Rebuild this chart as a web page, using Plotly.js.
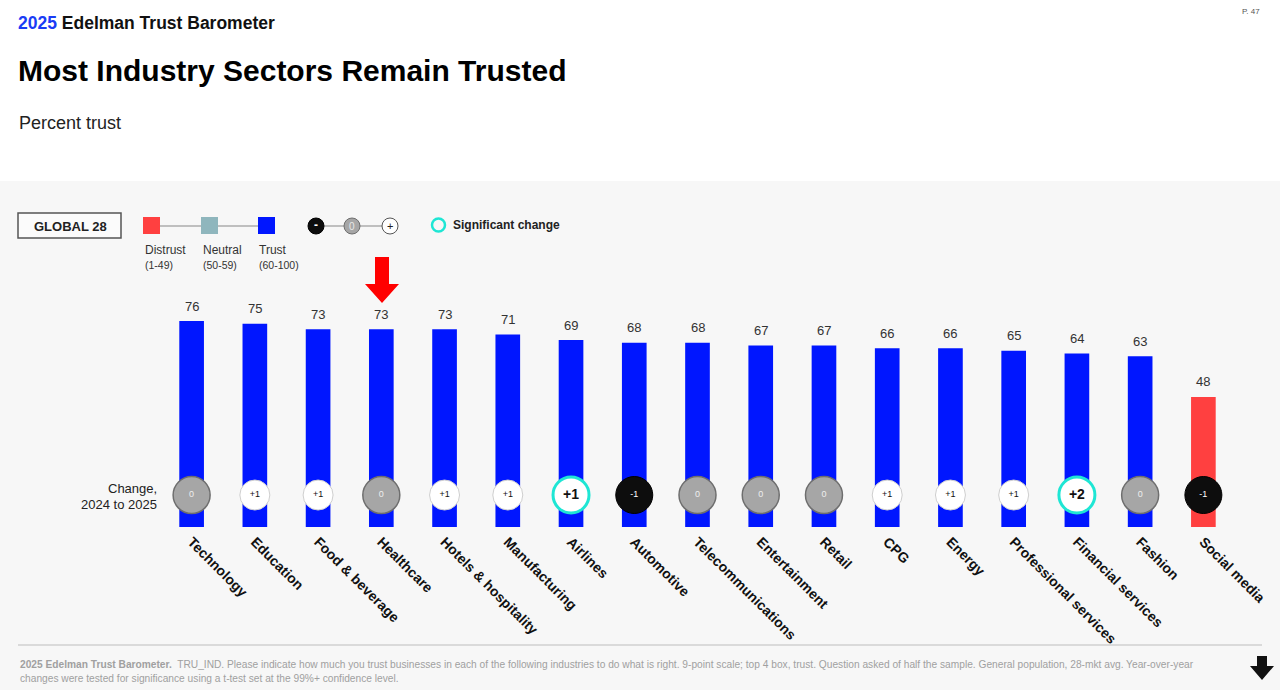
<!DOCTYPE html>
<html>
<head>
<meta charset="utf-8">
<script src="https://cdn.plot.ly/plotly-3.0.1.min.js"></script>
<style>
html,body{margin:0;padding:0;background:#fff;}
#chart{width:1280px;height:690px;}
</style>
</head>
<body>
<div id="chart"></div>
<script>
// ---------- DATA ----------
const categories = ["Technology","Education","Food & beverage","Healthcare","Hotels & hospitality","Manufacturing","Airlines","Automotive","Telecommunications","Entertainment","Retail","CPG","Energy","Professional services","Financial services","Fashion","Social media"];
const trust = [76,75,73,73,73,71,69,68,68,67,67,66,66,65,64,63,48];
const change = [0,1,1,0,1,1,1,-1,0,0,0,1,1,1,2,0,-1];
const significant = [0,0,0,0,0,0,1,0,0,0,0,0,0,0,1,0,0];
const legendLevels = ["Distrust","Neutral","Trust"];
const legendRanges = ["(1-49)","(50-59)","(60-100)"];

// ---------- STYLE / LAYOUT CONSTANTS ----------
const W = 1280, H = 690;
const PL = 160, PR = 1235, PT = 256, PB = 527;   // plot area in px
const X = px => (px - PL) / (PR - PL);
const Y = py => (PB - py) / (PB - PT);
const BLUE = "#0016ff", RED = "#ff4040", NEUTRAL = "#8fb6bd";
const CYAN = "#1ee6d4";
const FONT = "Liberation Sans, Arial, sans-serif";
const circleY = 11.8;

const barColors = trust.map(v => v >= 60 ? BLUE : (v >= 50 ? NEUTRAL : RED));
const changeText = change.map(c => c > 0 ? "+" + c : String(c));
const mFill = change.map((c,i) => significant[i] ? "#ffffff" : (c > 0 ? "#ffffff" : (c === 0 ? "#a6a6a6" : "#0d0d0d")));
const mLine = change.map((c,i) => significant[i] ? CYAN : (c > 0 ? "#cfcfcf" : (c === 0 ? "#6e6e6e" : "#000000")));
const mLineW = change.map((c,i) => significant[i] ? 3 : (c === 0 ? 1.5 : 1));
const mSize = change.map((c,i) => significant[i] ? 36 : (c > 0 ? 30 : 37));
const tColor = change.map((c,i) => significant[i] ? "#111" : (c > 0 ? "#111" : (c === 0 ? "#eeeeee" : "#ffffff")));
const tSize = change.map((c,i) => significant[i] ? 14 : 9);
const tWeight = change.map((c,i) => significant[i] ? "bold" : "normal");

const traces = [
  {
    type: "bar", x: categories, y: trust, width: 0.39,
    marker: {color: barColors, line: {width: 0}},
    hoverinfo: "x+y", showlegend: false
  },
  {
    type: "scatter", mode: "markers+text", x: categories, y: categories.map(() => circleY),
    text: changeText, textposition: "middle center",
    textfont: {family: FONT, size: tSize, color: tColor, weight: tWeight},
    marker: {size: mSize, color: mFill, opacity: 1, line: {color: mLine, width: mLineW}},
    hoverinfo: "text", showlegend: false, cliponaxis: false
  }
];

const annotations = [];
// value labels
categories.forEach((c, i) => {
  annotations.push({x: c, y: trust[i], xref: "x", yref: "y", text: String(trust[i]),
    showarrow: false, yshift: 15, yanchor: "middle",
    font: {family: FONT, size: 13, color: "#333"}});
});
function txt(text, xp, yp, size, color, opts) {
  annotations.push(Object.assign({
    text: text, x: X(xp), y: Y(yp), xref: "paper", yref: "paper",
    showarrow: false, xanchor: "left", yanchor: "middle",
    font: {family: FONT, size: size, color: color}
  }, opts || {}));
}
// header
txt("<b><span style='color:#1a3cf5'>2025</span></b><b> Edelman Trust Barometer</b>", 16, 23, 17.5, "#111", {font: {family: FONT, size: 17.5, color: "#111", weight: "bold"}});
txt("Most Industry Sectors Remain Trusted", 16, 71, 30, "#000", {font: {family: FONT, size: 30, color: "#000", weight: "bold"}});
txt("Percent trust", 17, 123, 18, "#222");
txt("P. 47", 1262, 11, 8, "#555", {xanchor: "right"});
// legend
txt("<b>GLOBAL 28</b>", 70, 226, 13, "#222", {xanchor: "center"});
const lx = [152, 210, 266];
legendLevels.forEach((l, i) => {
  txt(l, lx[i] - 9, 250, 12, "#333");
  txt(legendRanges[i], lx[i] - 9, 265, 10.5, "#333");
});
txt("-", 316, 225, 12, "#fff", {xanchor: "center", font: {family: FONT, size: 12, color: "#fff", weight: "bold"}});
txt("0", 352, 226, 10, "#e8e8e8", {xanchor: "center"});
txt("+", 390, 226, 11, "#222", {xanchor: "center"});
txt("<b>Significant change</b>", 451, 225, 12, "#222");
txt("Change,", 159, 488, 13, "#222", {xanchor: "right"});
txt("2024 to 2025", 159, 504, 13, "#222", {xanchor: "right"});
// footer
const FOOT = {family: FONT, size: 10.2, color: "#a0a0a0"};
txt("<b>2025 Edelman Trust Barometer.</b>  TRU_IND. Please indicate how much you trust businesses in each of the following industries to do what is right. 9-point scale; top 4 box, trust. Question asked of half the sample. General population, 28-mkt avg. Year-over-year", 18, 664, 10.2, "#a0a0a0", {font: FOOT});
txt("changes were tested for significance using a t-test set at the 99%+ confidence level.", 18, 678, 10.2, "#a0a0a0", {font: FOOT});

function pathPx(pts) {
  return "M " + pts.map(p => X(p[0]) + "," + Y(p[1])).join(" L ") + " Z";
}
const shapes = [
  // grey panel
  {type: "rect", xref: "paper", yref: "paper", x0: X(0), x1: X(W), y0: Y(181), y1: Y(H), fillcolor: "#f7f7f7", line: {width: 0}, layer: "below"},
  // global box
  {type: "rect", xref: "paper", yref: "paper", x0: X(18), x1: X(121), y0: Y(213), y1: Y(238), fillcolor: "#fbfbfb", line: {color: "#555", width: 1.5}},
  // legend connector lines
  {type: "line", xref: "paper", yref: "paper", x0: X(152), x1: X(266), y0: Y(226), y1: Y(226), line: {color: "#888", width: 1.2}},
  {type: "line", xref: "paper", yref: "paper", x0: X(316), x1: X(390), y0: Y(226), y1: Y(226), line: {color: "#888", width: 1.2}},
  // squares
  {type: "rect", xref: "paper", yref: "paper", x0: X(143), x1: X(160), y0: Y(217), y1: Y(234), fillcolor: RED, line: {width: 0}},
  {type: "rect", xref: "paper", yref: "paper", x0: X(201), x1: X(218), y0: Y(217), y1: Y(234), fillcolor: NEUTRAL, line: {width: 0}},
  {type: "rect", xref: "paper", yref: "paper", x0: X(258), x1: X(275), y0: Y(217), y1: Y(234), fillcolor: BLUE, line: {width: 0}},
  // circles legend
  {type: "circle", xref: "paper", yref: "paper", x0: X(308), x1: X(324), y0: Y(218), y1: Y(234), fillcolor: "#0d0d0d", line: {color: "#000", width: 1}},
  {type: "circle", xref: "paper", yref: "paper", x0: X(344), x1: X(360), y0: Y(218), y1: Y(234), fillcolor: "#a6a6a6", line: {color: "#6e6e6e", width: 1}},
  {type: "circle", xref: "paper", yref: "paper", x0: X(382), x1: X(398), y0: Y(218), y1: Y(234), fillcolor: "#fff", line: {color: "#555", width: 1}},
  {type: "circle", xref: "paper", yref: "paper", x0: X(432), x1: X(445), y0: Y(218.5), y1: Y(231.5), fillcolor: "rgba(0,0,0,0)", line: {color: CYAN, width: 2.5}},
  // red arrow
  {type: "path", xref: "paper", yref: "paper", path: pathPx([[375,257],[389,257],[389,284],[399,284],[382,303],[365,284],[375,284]]), fillcolor: "#ff0000", line: {width: 0}},
  // footer rule
  {type: "line", xref: "paper", yref: "paper", x0: X(18), x1: X(1262), y0: Y(645), y1: Y(645), line: {color: "#d0d0d0", width: 1.5}},
  // footer arrow
  {type: "path", xref: "paper", yref: "paper", path: pathPx([[1257,656],[1267,656],[1267,666],[1274,666],[1262,680],[1250,666],[1257,666]]), fillcolor: "#111", line: {width: 0}}
];

const layout = {
  width: W, height: H,
  margin: {l: PL, r: W - PR, t: PT, b: H - PB, pad: 0},
  paper_bgcolor: "#ffffff", plot_bgcolor: "rgba(0,0,0,0)",
  showlegend: false,
  xaxis: {
    type: "category", range: [-0.5, categories.length - 0.5],
    tickangle: 45, ticks: "", showgrid: false, zeroline: false, showline: false,
    ticklabelstandoff: 3,
    tickfont: {family: FONT, size: 14, color: "#111", weight: "bold"},
    fixedrange: true
  },
  yaxis: {range: [0, 100], visible: false, showgrid: false, zeroline: false, fixedrange: true},
  annotations: annotations,
  shapes: shapes,
  font: {family: FONT}
};

Plotly.newPlot("chart", traces, layout, {displayModeBar: false, staticPlot: true});
</script>
</body>
</html>
